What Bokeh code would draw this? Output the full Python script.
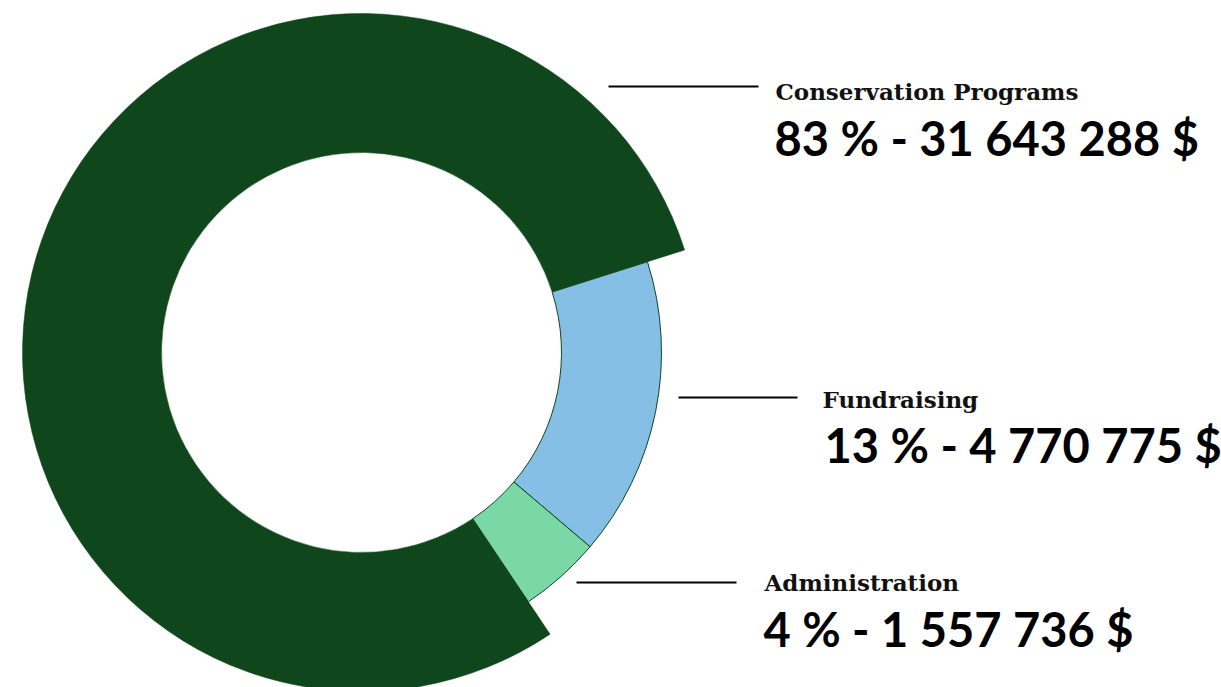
import math
from bokeh.plotting import figure
from bokeh.models import Range1d, ColumnDataSource
from bokeh.core.properties import value
from bokeh.embed import file_html
from bokeh.resources import INLINE

# ---- data ----
categories = ["Conservation Programs", "Fundraising", "Administration"]
share_pct = [79.5, 16.1, 4.4]          # slice shares as drawn in the picture
label_pct = ["83 %", "13 %", "4 %"]
amounts = ["31 643 288 $", "4 770 775 $", "1 557 736 $"]

# ---- styles / layout ----
colors = ["#0f461b", "#85bfe6", "#7ad8a6"]
outer_r = [339, 300, 300]
inner_r = 200
cx, cy = 361, -352
start_deg = 17.6   # where Fundraising begins, slices run clockwise from here

W, H = 1221, 687
p = figure(width=W, height=H, output_backend="svg", toolbar_location=None,
           x_axis_location=None, y_axis_location=None, min_border=0,
           x_range=Range1d(0, W), y_range=Range1d(-H, 0))
p.grid.visible = False
p.outline_line_color = None
p.background_fill_color = "white"
p.border_fill_color = "white"

total = sum(share_pct)
order = [1, 2, 0]
cur = math.radians(start_deg)
starts, ends = [0] * 3, [0] * 3
for i in order:
    a = share_pct[i] / total * 2 * math.pi
    ends[i] = cur
    starts[i] = cur - a
    cur -= a

for i in [0, 1, 2]:
    p.annular_wedge(x=cx, y=cy, inner_radius=inner_r, outer_radius=outer_r[i],
                    start_angle=starts[i], end_angle=ends[i],
                    fill_color=colors[i], line_color="#0f461b",
                    line_width=1 if i else 0.5)

# leader lines
seg = ColumnDataSource(dict(x0=[608, 678, 576], x1=[758, 797, 736],
                            y0=[-86, -397, -582], y1=[-86, -397, -582]))
p.segment(x0="x0", y0="y0", x1="x1", y1="y1", source=seg,
          line_color="black", line_width=2)

# labels
title_src = ColumnDataSource(dict(x=[775, 822, 764], y=[-91, -399, -582],
                                  t=categories))
p.text(x="x", y="y", text="t", source=title_src,
       text_font=value("DejaVu Serif"), text_font_style="bold",
       text_font_size="23px", text_color="#111111",
       text_baseline="alphabetic", text_align="left")

vals = [f"{a} - {b}" for a, b in zip(label_pct, amounts)]
val_src = ColumnDataSource(dict(x=[774, 824, 763], y=[-137, -444, -628], t=vals))
p.text(x="x", y="y", text="t", source=val_src,
       text_font=value("Lato"), text_font_style="bold",
       text_font_size="47px", text_color="black",
       text_baseline="alphabetic", text_align="left")

open("out.html", "w").write(file_html(p, INLINE))
